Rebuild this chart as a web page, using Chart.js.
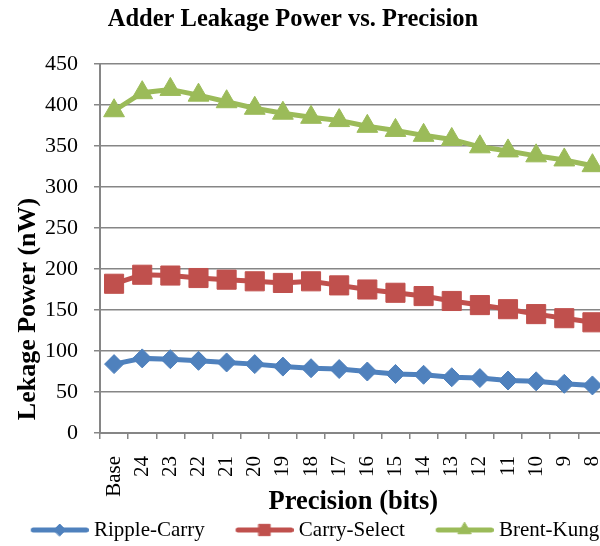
<!DOCTYPE html>
<html>
<head>
<meta charset="utf-8">
<script src="https://cdn.jsdelivr.net/npm/chart.js@4/dist/chart.umd.min.js"></script>
<style>
  html, body { margin: 0; padding: 0; background: #fff; overflow: hidden; }
  #wrap { position: relative; width: 621px; height: 546px; }
</style>
</head>
<body>
<div id="wrap"><canvas id="c"></canvas></div>
<script>
const chartTitle = 'Adder Leakage Power vs. Precision';
const xTitle = 'Precision (bits)';
const yTitle = 'Lekage Power (nW)';
const categories = ['Base','24','23','22','21','20','19','18','17','16','15','14','13','12','11','10','9','8'];
const seriesNames = ['Ripple-Carry','Carry-Select','Brent-Kung'];
const rippleCarry = [84, 91, 90, 88, 86, 84, 81, 79, 78, 75, 72, 71, 68, 67, 64, 63, 60, 58];
const carrySelect = [182, 193, 192, 189, 187, 185, 183, 185, 180, 175, 171, 167, 161, 156, 151, 145, 140, 135];
const brentKung = [393, 415, 419, 412, 404, 396, 390, 385, 381, 374, 369, 363, 358, 349, 344, 338, 333, 326];
const yTicks = [0, 50, 100, 150, 200, 250, 300, 350, 400, 450];

const colors = ['#4F81BD', '#C0504D', '#9BBB59'];
const styles = ['rectRot', 'rect', 'triangle'];
const radii = [9.5, 13.5, 12];
const legendRadii = [6, 8, 7.5];

function legendImg(i) {
  // 92 px wide, line drawn in the right-most 58 px
  const c = document.createElement('canvas');
  c.width = 92; c.height = 22;
  const ctx = c.getContext('2d');
  ctx.strokeStyle = colors[i];
  ctx.lineWidth = 5;
  ctx.lineCap = 'round';
  ctx.beginPath(); ctx.moveTo(36.5, 11); ctx.lineTo(89.5, 11); ctx.stroke();
  ctx.fillStyle = colors[i];
  ctx.lineWidth = 1;
  Chart.helpers.drawPoint(ctx, {pointStyle: styles[i], radius: legendRadii[i], rotation: 0, borderWidth: 1}, 63, 11);
  return c;
}

const serif = '"Liberation Serif", "Times New Roman", serif';

const textPlugin = {
  id: 'customTexts',
  afterDraw(chart) {
    const ctx = chart.ctx;
    ctx.save();
    ctx.fillStyle = '#000';
    ctx.textAlign = 'center';
    ctx.textBaseline = 'middle';
    ctx.font = 'bold 24.5px ' + serif;
    ctx.fillText(chartTitle, 293, 20);
    ctx.translate(28, 309);
    ctx.rotate(-Math.PI / 2);
    ctx.font = 'bold 26px ' + serif;
    ctx.fillText(yTitle, 0, 0);
    ctx.restore();
  }
};

const data = [rippleCarry, carrySelect, brentKung];
new Chart(document.getElementById('c'), {
  type: 'line',
  data: {
    labels: categories,
    datasets: data.map((d, i) => ({
      label: seriesNames[i],
      data: d,
      borderColor: colors[i],
      backgroundColor: colors[i],
      borderWidth: 5,
      pointStyle: styles[i],
      pointRadius: radii[i],
      pointBorderWidth: 1,
      pointBackgroundColor: colors[i],
      pointBorderColor: colors[i],
      tension: 0
    }))
  },
  options: {
    responsive: true,
    maintainAspectRatio: false,
    animation: false,
    layout: { padding: { top: 64, right: 10, left: 0, bottom: -4.5 } },
    plugins: {
      title: { display: false },
      tooltip: { enabled: false },
      legend: {
        position: 'bottom',
        align: 'start',
        labels: {
          usePointStyle: true,
          pointStyleWidth: 81.5,
          boxHeight: 21,
          padding: 2,
          color: '#000',
          font: { family: serif, size: 21 },
          generateLabels(chart) {
            return seriesNames.map((n, i) => ({
              text: n,
              pointStyle: legendImg(i),
              fillStyle: colors[i],
              strokeStyle: colors[i],
              lineWidth: 0,
              datasetIndex: i,
              hidden: false
            }));
          }
        }
      }
    },
    scales: {
      x: {
        type: 'category',
        offset: true,
        border: { display: true, color: '#868686', width: 2 },
        grid: { display: true, drawOnChartArea: false, drawTicks: true, tickLength: 6, offset: true, color: '#868686', lineWidth: 1.5 },
        ticks: { color: '#000', font: { family: serif, size: 21 }, maxRotation: 90, minRotation: 90, padding: 17, autoSkip: false },
        title: { display: true, text: xTitle, color: '#000', font: { family: serif, size: 26.5, weight: 'bold' }, padding: { top: 0, bottom: -1 } },
        afterFit(scale) { scale.height = 84.5; scale.paddingLeft = 0; scale.paddingRight = 0; }
      },
      y: {
        min: 0, max: 450,
        afterBuildTicks(scale) { scale.ticks = yTicks.map(v => ({ value: v })); },
        border: { display: true, color: '#868686', width: 2 },
        grid: { color: '#868686', lineWidth: 1.5, tickLength: 6, drawTicks: true },
        ticks: { color: '#000', font: { family: serif, size: 22 }, padding: 16 },
        title: { display: false },
        afterFit(scale) { scale.width = 100; scale.paddingTop = 0; scale.paddingBottom = 0; }
      }
    }
  },
  plugins: [textPlugin]
});
</script>
</body>
</html>
